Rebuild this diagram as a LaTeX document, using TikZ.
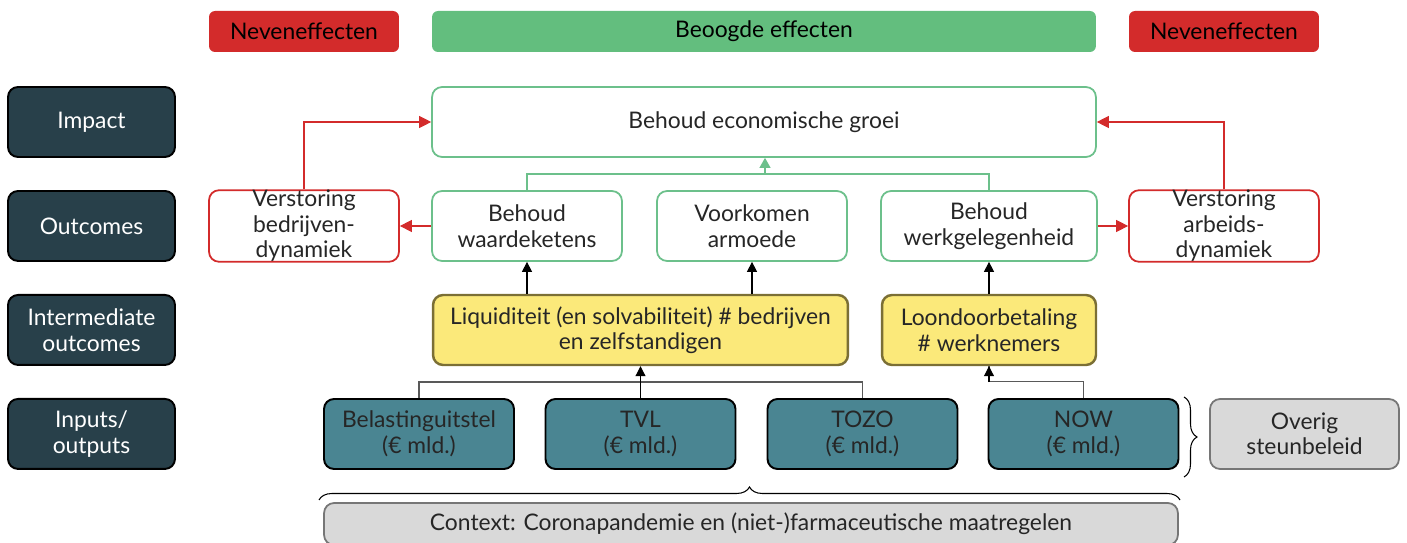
\documentclass[tikz,border=0pt]{standalone}
\usepackage{fontspec}
\setmainfont{Lato}
\usetikzlibrary{shapes, arrows.meta, positioning, decorations.pathreplacing}
\definecolor{nevred}{HTML}{D32B2B}
\definecolor{beoggreen}{HTML}{63BE7E}
\definecolor{edgegreen}{HTML}{6CC08B}
\definecolor{darkteal}{HTML}{28404A}
\definecolor{inputteal}{HTML}{4A8592}
\definecolor{interyellow}{HTML}{FBE97A}
\definecolor{olive}{HTML}{7B6F35}
\definecolor{lightgrey}{HTML}{D9D9D9}
\definecolor{edgegrey}{HTML}{767676}
\definecolor{textgrey}{HTML}{262626}
\tikzstyle{box} = [rectangle, rounded corners=0.2cm, align=center, inner sep=0pt, font=\fontsize{13}{14.5}\selectfont]
\tikzstyle{header} = [box, rounded corners=0.12cm, minimum width=3.8cm, minimum height=0.82cm, text=black]
\tikzstyle{headred} = [header, fill=nevred]
\tikzstyle{headgreen} = [header, fill=beoggreen]
\tikzstyle{levelbox} = [box, minimum width=3.34cm, minimum height=1.4cm, draw=black, line width=1.1pt, outer sep=0pt, fill=darkteal, text=white]
\tikzstyle{effect} = [box, minimum width=3.8cm, minimum height=1.4cm, draw=edgegreen, line width=1pt, fill=white, text=textgrey]
\tikzstyle{sideeffect} = [box, minimum width=3.8cm, minimum height=1.4cm, draw=nevred, line width=1pt, fill=white, text=textgrey]
\tikzstyle{inter} = [box, minimum height=1.4cm, draw=olive, line width=1.4pt, fill=interyellow, text=textgrey]
\tikzstyle{input} = [box, minimum width=3.8cm, minimum height=1.4cm, draw=black, line width=1.1pt, fill=inputteal, text=textgrey]
\tikzstyle{other} = [box, minimum height=1.4cm, draw=edgegrey, line width=1pt, fill=lightgrey, text=textgrey]
\tikzstyle{line} = [draw, -{Triangle[length=0.2cm, width=0.2cm]}, line width=0.6pt]
\tikzstyle{redline} = [draw, -{Triangle[length=0.24cm, width=0.24cm]}, line width=0.6pt, nevred]
\tikzstyle{greenline} = [draw, edgegreen, line width=0.6pt]
\tikzstyle{greyline} = [draw, black!65, line width=0.6pt]

\begin{document}
\begin{tikzpicture}[x=0.02cm, y=-0.02cm]
            \useasboundingbox (0,0) rectangle (1407,543);
            % Draw nodes
            % Headers
            \node (hleft) [headred] at (304,31.5) {Neveneffecten};
            \node (hmid) [headgreen, minimum width=13.28cm] at (764,31.5) {Beoogde effecten};
            \node (hright) [headred] at (1224,31.5) {Neveneffecten};

            % Levels
            \node (limpact) [levelbox] at (91.5,122) {Impact};
            \node (loutcome) [levelbox, below=0.68cm of limpact] {Outcomes};
            \node (linter) [levelbox, below=0.68cm of loutcome] {Intermediate\\outcomes};
            \node (linput) [levelbox, below=0.68cm of linter] {Inputs/\\outputs};

            % Impact and outcomes
            \node (impact) [effect, minimum width=13.28cm] at (764,122) {Behoud economische groei};
            \node (vbd) [sideeffect] at (304,226) {Verstoring\\bedrijven-\\dynamiek};
            \node (bw) [effect] at (527,226) {Behoud\\waardeketens};
            \node (va) [effect] at (752,226) {Voorkomen\\armoede};
            \node (bwg) [effect, minimum width=4.32cm] at (989,226) {Behoud\\werkgelegenheid};
            \node (vad) [sideeffect] at (1224,226) {Verstoring\\arbeids-\\dynamiek};

            % Intermediate outcomes
            \node (liq) [inter, minimum width=8.3cm] at (640.5,330) {Liquiditeit (en solvabiliteit) \# bedrijven\\en zelfstandigen};
            \node (loon) [inter, minimum width=4.28cm] at (989,330) {Loondoorbetaling\\\# werknemers};

            % Inputs
            \node (belast) [input] at (419,434) {Belastinguitstel\\(€ mld.)};
            \node (tvl) [input] at (640.5,434) {TVL\\(€ mld.)};
            \node (tozo) [input] at (862.5,434) {TOZO\\(€ mld.)};
            \node (now) [input] at (1083.5,434) {NOW\\(€ mld.)};
            \node (overig) [other, minimum width=3.78cm] at (1304.5,434) {Overig\\steunbeleid};
            \node (context) [other, minimum width=17.08cm, minimum height=0.84cm] at (751,524) {Context: Coronapandemie en (niet-)farmaceutische maatregelen};

            \coordinate (gjoin) at (765,174);
            \coordinate (ljoin) at (641,382);

            % Draw lines
            % Beoogde effecten
            \path [greenline] (bw.north) |- (gjoin) -| (bwg.north);
            \path [greenline, -{Triangle[length=0.2cm, width=0.22cm]}] (gjoin) -- (gjoin |- impact.south);
            \path [line] (liq.north -| bw.south) -- (bw.south);
            \path [line] (liq.north -| va.south) -- (va.south);
            \path [line] (loon.north) -- (bwg.south);

            % Neveneffecten
            \path [redline] (bw.west) -- (vbd.east);
            \path [redline] (vbd.north) |- (impact.west);
            \path [redline] (bwg.east) -- (vad.west);
            \path [redline] (vad.north) |- (impact.east);

            % Inputs
            \path [greyline] (belast.north) |- (ljoin) -| (tozo.north);
            \path [line] (tvl.north) -- (tvl.north |- liq.south);
            \path [greyline] (now.north) -- ++(0,-17) -| (loon.south);
            \path [line] (loon.south) ++(0,16) -- (loon.south);

            % Braces
            \draw [line width=0.6pt, decorate, decoration={brace, amplitude=0.26cm}] (1184,397) -- (1184,477);
            \draw [line width=0.6pt, decorate, decoration={brace, amplitude=0.26cm}] (319,500) -- (1180,500);
        \end{tikzpicture}
\end{document}
